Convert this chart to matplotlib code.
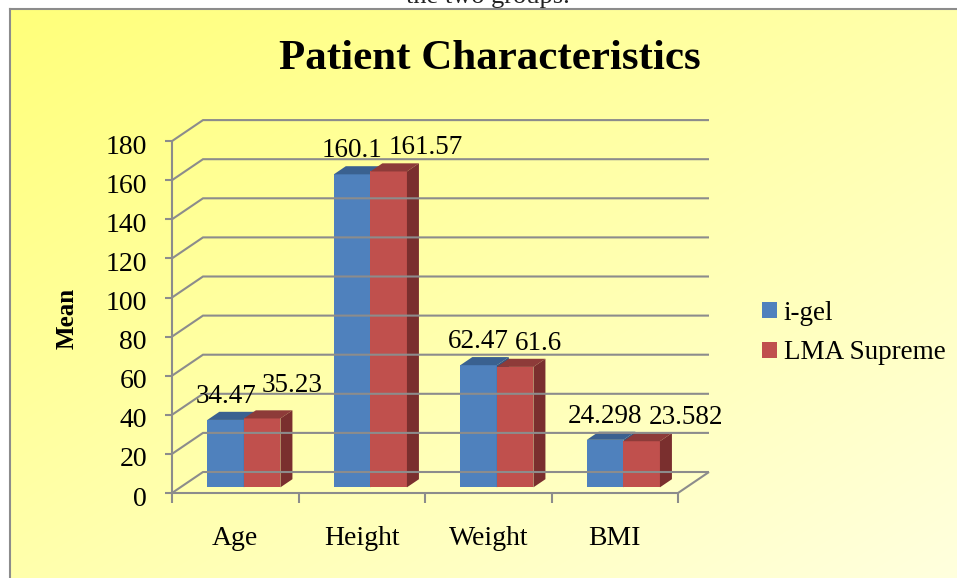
import numpy as np
import matplotlib
matplotlib.use('Agg')
import matplotlib.pyplot as plt
from matplotlib.patches import Polygon, Patch
from matplotlib.lines import Line2D

plt.rcParams['font.family'] = ['Liberation Serif', 'DejaVu Serif']

# mean values per group
categories = ['Age', 'Height', 'Weight', 'BMI']
igel_mean = [34.47, 160.1, 62.47, 24.298]
lma_mean = [35.23, 161.57, 61.6, 23.582]
series_names = ['i-gel', 'LMA Supreme']
y_ticks = [0, 20, 40, 60, 80, 100, 120, 140, 160, 180]

# office-style colours: front, top, side
blue = ('#4F81BD', '#3A6190', '#335683')
red = ('#C0504D', '#8D3B39', '#7A2F2E')
grid_color = '#8C8C8C'

W, H = 957, 578
fig = plt.figure(figsize=(W / 100, H / 100), dpi=100)

# caption line of the page above the chart, mostly cut off
fig.text(488 / W, 1 - 2.5 / H, 'the two groups.', ha='center', va='baseline',
         fontsize=19, color='#222222', zorder=-5)

# yellow gradient chart area
bg = fig.add_axes([10 / W, 0, (W - 10) / W, (H - 9) / H], zorder=0)
u = np.linspace(0, 1, 200)
uu, vv = np.meshgrid(u, u)
t = (uu + vv) / 2
c0 = np.array([1.0, 1.0, 0.48])
c1 = np.array([1.0, 1.0, 0.87])
grad = c0[None, None, :] + (c1 - c0)[None, None, :] * t[:, :, None]
bg.imshow(grad, aspect='auto', extent=[0, 1, 0, 1], interpolation='bilinear')
bg.axis('off')

# chart border (top and left edges)
fig.add_artist(Line2D([10 / W, 1], [(H - 9) / H, (H - 9) / H], color='#8C8C8C',
                      lw=1.5, transform=fig.transFigure, zorder=1))
fig.add_artist(Line2D([10 / W, 10 / W], [0, (H - 9) / H], color='#8C8C8C',
                      lw=1.5, transform=fig.transFigure, zorder=1))

# front plane of the plot
px_y = 1.955
ax = fig.add_axes([172 / W, 85 / H, 506 / W, 180 * px_y / H], zorder=2)
ax.set_xlim(0, len(categories))
ax.set_ylim(0, 180)
ax.axis('off')

px_x = 506 / len(categories)
# depth of the floor in data units (31 px right, 21 px up)
ddx = 31 / px_x
ddy = 21 / px_y


def at(x, y, d):
    return (x + d * ddx, y + d * ddy)


n = len(categories)
line_kw = dict(color=grid_color, lw=1.5, clip_on=False, solid_joinstyle='miter',
               solid_capstyle='butt')

# back wall gridlines with their side-wall diagonals
for v in y_ticks:
    ax.plot([0, ddx, n + ddx], [v, v + ddy, v + ddy], **line_kw)
    ax.plot([-7 / px_x, 0], [v, v], **line_kw)

# floor edges and front value axis
ax.plot([0, n, n + ddx], [0, 0, ddy], **line_kw)
ax.plot([0, 0], [0, y_ticks[-1]], **line_kw)
for i in range(n + 1):
    ax.plot([i, i], [0, -10 / px_y], **line_kw)

# y tick labels
for v in y_ticks:
    ax.annotate(str(v), xy=(0, v), xytext=(-25, -12.5), textcoords='offset pixels',
                ha='right', va='baseline', fontsize=20, annotation_clip=False)

# category labels
for i, cat in enumerate(categories):
    ax.annotate(cat, xy=(i + 0.5, 0), xytext=(0, -52), textcoords='offset pixels',
                ha='center', va='baseline', fontsize=20, annotation_clip=False)

# 3-D looking bars
bar_offset = 0.213
bar_w = 0.289
d0 = 0.27
d1 = d0 + 12 / 31


def draw_bar(x0, v, colors):
    front, top, side = colors
    x1 = x0 + bar_w
    faces = [
        ([at(x0, 0, d0), at(x1, 0, d0), at(x1, v, d0), at(x0, v, d0)], front),
        ([at(x0, v, d0), at(x1, v, d0), at(x1, v, d1), at(x0, v, d1)], top),
        ([at(x1, 0, d0), at(x1, 0, d1), at(x1, v, d1), at(x1, v, d0)], side),
    ]
    for pts, c in faces:
        ax.add_patch(Polygon(pts, closed=True, facecolor=c, edgecolor='none',
                             clip_on=False))


# the first red label sits a little higher to clear its neighbour
red_lift = {0: 9}

for i in range(n):
    xb = i + bar_offset
    xr = xb + bar_w
    draw_bar(xb, igel_mean[i], blue)
    draw_bar(xr, lma_mean[i], red)

    # value labels: blue over its bar, red just right of the blue one
    vb, vr = igel_mean[i], lma_mean[i]
    lab_b = ax.annotate(f'{vb:g}', xy=(xb + bar_w / 2 + d0 * ddx, vb + d1 * ddy),
                        xytext=(0, 9), textcoords='offset pixels', ha='center',
                        va='baseline', fontsize=19.5, annotation_clip=False)
    ax.annotate(f'{vr:g}', xy=(1, vr + d1 * ddy), xycoords=(lab_b, 'data'),
                xytext=(6, 9 + red_lift.get(i, 0)), textcoords='offset pixels',
                ha='left', va='baseline', fontsize=19.5, annotation_clip=False)

# axis title
fig.text(67 / W, 1 - 318 / H, 'Mean', rotation=90, ha='center', va='center',
         fontsize=18, fontweight='bold')

# chart title
fig.text(490 / W, 1 - 69 / H, 'Patient Characteristics', ha='center',
         va='baseline', fontsize=31, fontweight='bold')

# legend
handles = [Patch(facecolor=blue[0]), Patch(facecolor=red[0])]
fig.legend(handles, series_names, loc='center left',
           bbox_to_anchor=(762 / W, 1 - 333 / H), frameon=False, fontsize=19.5,
           handlelength=0.55, handleheight=0.55, handletextpad=0.25,
           labelspacing=0.55, borderpad=0, borderaxespad=0)

fig.savefig('out.png', dpi=100)
